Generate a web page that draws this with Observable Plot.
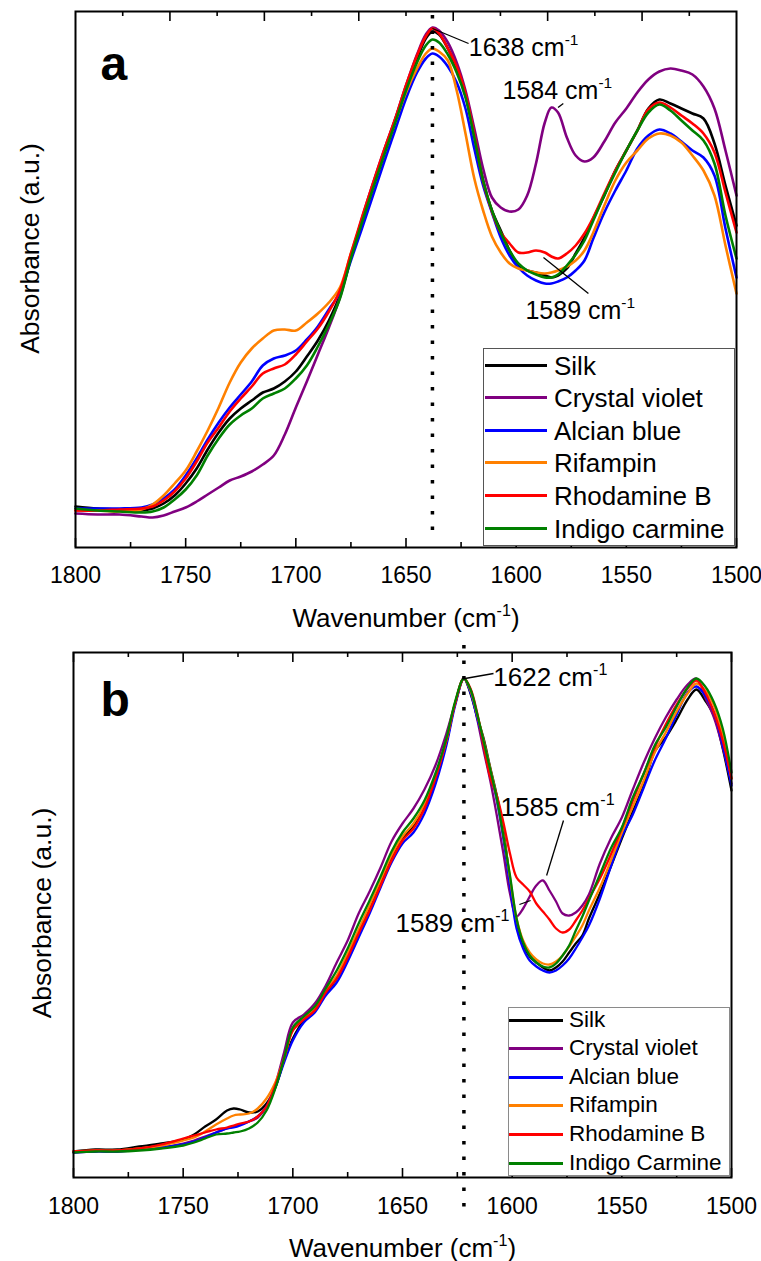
<!DOCTYPE html>
<html>
<head>
<meta charset="utf-8">
<title>FTIR amide I/II spectra of dyed silk</title>
<script src="https://cdn.jsdelivr.net/npm/d3@7"></script>
<script src="https://cdn.jsdelivr.net/npm/@observablehq/plot@0.6"></script>
<style>
  html, body { margin: 0; padding: 0; background: #fff; }
  body { width: 761px; font-family: "Liberation Sans", Arial, Helvetica, sans-serif; }
  .panel { position: relative; width: 761px; }
  .panel svg { display: block; }
  .legend { position: absolute; box-sizing: border-box; background: #fff; border: 1px solid #555; }
  .legend .row { position: absolute; left: 0; right: 0; display: flex; align-items: center; white-space: nowrap; color: #000; }
  .legend .swatch { display: inline-block; flex: none; }
  .legend .name { line-height: 1; }
</style>
</head>
<body>
<div id="chart"></div>
<script>
// ---- Panel a: absorbance (a.u.) vs wavenumber (cm^-1) ----
const wavenumberA = [1800, 1790, 1780, 1770, 1765, 1760, 1755, 1750, 1745, 1740, 1735, 1730, 1725, 1720, 1715, 1710, 1705, 1700, 1695, 1690, 1685, 1680, 1675, 1670, 1665, 1660, 1655, 1650, 1645, 1641, 1638, 1635, 1631, 1627, 1623, 1619, 1615, 1611, 1607, 1603, 1599, 1595, 1591, 1587, 1584, 1581, 1577, 1573, 1569, 1565, 1560, 1555, 1550, 1545, 1540, 1535, 1530, 1525, 1520, 1515, 1510, 1505, 1500];
const silkA = [41, 39, 38, 37, 39, 44, 52, 64, 79, 98, 115, 129, 139, 147, 155, 159, 166, 176, 191, 207, 227, 252, 291, 327, 361, 395, 427, 460, 489, 509, 516, 513, 499, 479, 452, 412, 367, 337, 317, 297, 282, 277, 275, 272, 270, 272, 279, 294, 310, 329, 352, 377, 397, 417, 439, 448, 444, 439, 434, 429, 404, 362, 322];
const crystalVioletA = [34, 33, 33, 31, 30, 32, 36, 40, 46, 53, 60, 67, 71, 76, 83, 92, 113, 140, 166, 193, 220, 250, 290, 329, 364, 397, 428, 462, 493, 513, 520, 517, 505, 485, 457, 419, 379, 350, 340, 336, 338, 352, 384, 425, 440, 435, 410, 392, 386, 390, 406, 425, 439, 455, 468, 476, 479, 477, 473, 461, 439, 397, 352];
const alcianBlueA = [39, 39, 39, 40, 43, 49, 58, 72, 89, 108, 125, 140, 153, 166, 182, 189, 192, 197, 208, 221, 238, 255, 287, 319, 352, 385, 417, 449, 475, 489, 494, 491, 481, 465, 439, 399, 362, 335, 310, 292, 280, 272, 267, 264, 264, 266, 270, 277, 287, 309, 335, 357, 377, 399, 412, 418, 414, 406, 397, 390, 372, 319, 270];
const rifampinA = [37, 37, 36, 38, 43, 52, 64, 77, 96, 117, 140, 165, 185, 199, 209, 217, 218, 217, 225, 234, 245, 260, 294, 327, 361, 394, 425, 455, 479, 494, 499, 496, 487, 457, 414, 369, 337, 311, 295, 284, 279, 277, 275, 274, 275, 277, 281, 287, 297, 315, 342, 367, 385, 397, 409, 414, 412, 405, 392, 377, 352, 302, 254];
const rhodamineBA = [37, 37, 38, 39, 41, 47, 56, 69, 86, 105, 120, 136, 149, 161, 174, 179, 183, 193, 206, 219, 236, 257, 294, 330, 364, 397, 428, 462, 492, 511, 519, 514, 499, 481, 454, 413, 366, 336, 315, 304, 295, 295, 297, 295, 291, 289, 294, 302, 314, 330, 354, 377, 397, 417, 438, 445, 440, 432, 424, 414, 395, 355, 315];
const indigoCarmineA = [39, 37, 36, 35, 36, 40, 48, 58, 72, 92, 109, 123, 132, 139, 149, 154, 159, 169, 182, 201, 223, 249, 289, 325, 359, 392, 424, 457, 485, 502, 508, 505, 493, 475, 450, 410, 367, 337, 315, 297, 284, 277, 273, 270, 270, 273, 282, 293, 307, 327, 352, 375, 397, 417, 435, 443, 437, 427, 417, 407, 384, 332, 289];

// ---- Panel b: absorbance (a.u.) vs wavenumber (cm^-1) ----
const wavenumberB = [1800, 1790, 1780, 1770, 1760, 1750, 1745, 1740, 1735, 1730, 1727, 1724, 1720, 1716, 1712, 1708, 1704, 1700, 1695, 1690, 1685, 1680, 1675, 1670, 1665, 1660, 1655, 1650, 1645, 1640, 1635, 1630, 1626, 1622, 1619, 1616, 1613, 1610, 1607, 1604, 1601, 1598, 1595, 1592, 1589, 1586, 1583, 1580, 1577, 1574, 1571, 1568, 1565, 1560, 1555, 1550, 1545, 1540, 1535, 1530, 1525, 1520, 1516, 1512, 1508, 1504, 1500];
const silkB = [26, 28, 28, 31, 34, 38, 43, 51, 58, 67, 69, 68, 65, 66, 74, 90, 117, 139, 157, 167, 184, 199, 220, 244, 268, 294, 319, 339, 351, 369, 397, 435, 474, 499, 484, 461, 439, 410, 382, 347, 297, 254, 232, 221, 215, 210, 207, 210, 216, 225, 234, 242, 259, 284, 311, 339, 366, 392, 426, 440, 458, 478, 488, 477, 462, 429, 387];
const crystalVioletB = [25, 26, 26, 28, 30, 34, 37, 41, 45, 49, 51, 53, 56, 60, 71, 93, 125, 155, 163, 174, 192, 215, 237, 264, 286, 310, 336, 354, 369, 388, 412, 444, 474, 499, 487, 459, 427, 397, 362, 324, 284, 261, 269, 281, 292, 297, 287, 276, 264, 262, 265, 272, 283, 314, 339, 360, 388, 415, 439, 460, 478, 493, 499, 480, 460, 430, 394];
const alcianBlueB = [25, 26, 26, 28, 30, 33, 36, 40, 45, 49, 50, 52, 56, 61, 71, 90, 115, 137, 155, 165, 182, 195, 216, 240, 264, 290, 315, 334, 345, 364, 393, 432, 472, 499, 485, 460, 435, 407, 377, 339, 292, 249, 229, 217, 211, 207, 205, 207, 212, 219, 229, 240, 252, 279, 311, 341, 363, 390, 417, 439, 463, 485, 491, 482, 465, 432, 392];
const rifampinB = [26, 27, 27, 29, 32, 37, 40, 46, 53, 59, 62, 63, 64, 69, 79, 95, 119, 147, 159, 169, 187, 202, 224, 248, 272, 297, 322, 341, 354, 373, 401, 437, 475, 499, 487, 463, 437, 409, 380, 344, 300, 259, 237, 225, 218, 214, 213, 216, 222, 231, 241, 252, 267, 290, 317, 345, 371, 397, 425, 445, 466, 484, 494, 487, 472, 442, 399];
const rhodamineBB = [26, 27, 27, 29, 33, 39, 42, 45, 48, 50, 52, 54, 56, 61, 71, 92, 119, 147, 158, 167, 185, 199, 220, 244, 267, 292, 317, 337, 349, 369, 399, 437, 474, 499, 489, 465, 432, 400, 382, 355, 324, 300, 293, 286, 274, 266, 258, 249, 245, 248, 257, 267, 279, 299, 323, 349, 377, 404, 430, 453, 473, 489, 497, 485, 465, 437, 399];
const indigoCarmineB = [25, 26, 26, 27, 29, 32, 35, 39, 43, 44, 45, 46, 49, 55, 67, 89, 119, 150, 161, 171, 189, 207, 229, 254, 277, 301, 326, 345, 359, 377, 404, 439, 476, 499, 488, 464, 436, 408, 379, 342, 302, 259, 235, 222, 215, 211, 210, 214, 222, 232, 247, 261, 277, 303, 329, 350, 380, 404, 432, 450, 471, 490, 499, 491, 475, 449, 405];

// ---- Series names, colours and axis ticks ----
const seriesNamesA = ["Silk", "Crystal violet", "Alcian blue", "Rifampin", "Rhodamine B", "Indigo carmine"];
const seriesNamesB = ["Silk", "Crystal violet", "Alcian blue", "Rifampin", "Rhodamine B", "Indigo Carmine"];
const seriesColors = ["#000000", "#800080", "#0000ff", "#ff8000", "#ff0000", "#008000"];
const xTickLabels = [1800, 1750, 1700, 1650, 1600, 1550, 1500];
const xTitle = "Wavenumber (cm^-1)";
const yTitle = "Absorbance (a.u.)";

const FONT = '"Liberation Sans", Arial, Helvetica, sans-serif';
const SVGNS = "http://www.w3.org/2000/svg";

// Turn "cm^-1" into cm with a raised, smaller -1.
function raiseExponents(svg) {
  for (const t of svg.querySelectorAll("text")) {
    if (t.children.length) continue;
    const m = /^(.*)\^(-?\d+)(.*)$/.exec(t.textContent);
    if (!m) continue;
    const fs = parseFloat(getComputedStyle(t).fontSize) || 20;
    t.textContent = m[1];
    const sup = document.createElementNS(SVGNS, "tspan");
    sup.setAttribute("font-size", (fs * 0.62).toFixed(1));
    sup.setAttribute("dy", (-fs * 0.42).toFixed(1));
    sup.textContent = m[2];
    t.appendChild(sup);
    if (m[3]) {
      const rest = document.createElementNS(SVGNS, "tspan");
      rest.setAttribute("dy", (fs * 0.42).toFixed(1));
      rest.textContent = m[3];
      t.appendChild(rest);
    }
  }
}

function drawPanel(p) {
  const plotH = p.height - p.margin.top - p.margin.bottom;
  const every25 = d3.range(1500, 1801, 25);
  const bottomMajor = every25.filter(d => d % 50 === 0);
  const bottomMinor = every25.filter(d => d % 50 !== 0);
  const marks = [];

  // peak labels (drawn beneath the spectra)
  marks.push(Plot.text(p.notes, {x: "tx", y: "ty", text: "label", textAnchor: "start", lineAnchor: "bottom", fontSize: p.noteSize, fill: "black"}));

  // spectra
  p.series.forEach((values, s) => {
    const rows = values.map((a, i) => ({w: p.waves[i], a}));
    marks.push(Plot.line(rows, {x: "w", y: "a", stroke: seriesColors[s], strokeWidth: p.lineWidth, curve: "catmull-rom"}));
  });

  // leader lines
  marks.push(Plot.link(p.notes, {x1: "x1", y1: "y1", x2: "x2", y2: "y2", stroke: "black", strokeWidth: 1.3}));

  // dotted marker at the amide I maximum
  marks.push(Plot.ruleX([p.peak], {stroke: "black", strokeWidth: 3.5, strokeDasharray: "3.5,12", insetTop: p.ruleInset[0], insetBottom: p.ruleInset[1]}));

  // inward ticks on the bottom edge
  marks.push(Plot.tickX(bottomMajor, {x: d => d, insetTop: plotH - 9, stroke: "black", strokeWidth: 1.6}));
  marks.push(Plot.tickX(bottomMinor, {x: d => d, insetTop: plotH - 5, stroke: "black", strokeWidth: 1.6}));
  // inward ticks on the top edge
  marks.push(Plot.tickX(p.topMajor, {x: d => d, insetBottom: plotH - 10, stroke: "black", strokeWidth: 1.6}));
  marks.push(Plot.tickX(p.topMinor, {x: d => d, insetBottom: plotH - 5, stroke: "black", strokeWidth: 1.6}));

  marks.push(Plot.frame({stroke: "black", strokeWidth: 2}));
  marks.push(Plot.axisX(xTickLabels, {anchor: "bottom", tickSize: 0, tickPadding: p.tickPad, fontSize: 23, tickFormat: d3.format("d"), label: null, fill: "black"}));

  // axis titles and panel letter
  marks.push(Plot.text([xTitle], {frameAnchor: "bottom", dy: 79, textAnchor: "middle", lineAnchor: "bottom", fontSize: 26, fill: "black"}));
  marks.push(Plot.text([yTitle], {frameAnchor: "left", rotate: -90, dx: p.yTitleDx, dy: p.yTitleDy, textAnchor: "middle", lineAnchor: "middle", fontSize: 26.5, fill: "black"}));
  marks.push(Plot.text([p.letter], {frameAnchor: "top-left", dx: p.letterDx, dy: p.letterDy, textAnchor: "start", lineAnchor: "bottom", fontSize: 48, fontWeight: "bold", fill: "black"}));

  return Plot.plot({
    width: 761,
    height: p.height,
    marginTop: p.margin.top,
    marginRight: p.margin.right,
    marginBottom: p.margin.bottom,
    marginLeft: p.margin.left,
    x: {domain: [1800, 1500], axis: null},
    y: {domain: [0, p.yMax], axis: null},
    style: {background: "white", color: "black", fontFamily: FONT, overflow: "visible"},
    marks
  });
}

function addLegend(container, p) {
  const L = p.legend;
  const box = document.createElement("div");
  box.className = "legend";
  Object.assign(box.style, {left: L.left + "px", top: L.top + "px", width: L.width + "px", height: L.height + "px", borderColor: L.border});
  p.names.forEach((name, i) => {
    const row = document.createElement("div");
    row.className = "row";
    const h = Math.round(L.step);
    row.style.top = Math.round(L.first + i * L.step - h / 2) + "px";
    row.style.height = h + "px";
    const sw = document.createElement("span");
    sw.className = "swatch";
    Object.assign(sw.style, {width: L.swatch + "px", height: L.lineWidth + "px", background: seriesColors[i], marginLeft: L.swatchLeft + "px"});
    const label = document.createElement("span");
    label.className = "name";
    label.textContent = name;
    Object.assign(label.style, {fontSize: L.fontSize + "px", marginLeft: L.gap + "px", fontFamily: FONT});
    row.append(sw, label);
    box.append(row);
  });
  container.append(box);
}

const panels = [
  {
    letter: "a", height: 638, margin: {top: 11, right: 25, bottom: 91, left: 75}, yMax: 536,
    waves: wavenumberA,
    series: [silkA, crystalVioletA, alcianBlueA, rifampinA, rhodamineBA, indigoCarmineA],
    names: seriesNamesA, lineWidth: 2.6, peak: 1638, ruleInset: [4, 8], tickPad: 19,
    topMajor: d3.range(2, 14, 2).map(k => 1800 - 300 * k / 14),
    topMinor: d3.range(1, 14, 2).map(k => 1800 - 300 * k / 14),
    yTitleDx: -45, yTitleDy: -31, letterDx: 25, letterDy: 68, noteSize: 25,
    notes: [
      {label: "1638 cm^-1", tx: 1621.5, ty: 492, x1: 1638, y1: 519, x2: 1621.6, y2: 504},
      {label: "1584 cm^-1", tx: 1606.2, ty: 449, x1: 1581, y1: 440, x2: 1578.6, y2: 444},
      {label: "1589 cm^-1", tx: 1595.8, ty: 229, x1: 1587.6, y1: 290, x2: 1567.2, y2: 254}
    ],
    legend: {left: 483, top: 348, width: 252, height: 198, border: "#555", first: 16, step: 32.6, swatch: 62, swatchLeft: 1, gap: 7, lineWidth: 3, fontSize: 26}
  },
  {
    letter: "b", height: 623, margin: {top: 14, right: 30, bottom: 84, left: 73}, yMax: 525,
    waves: wavenumberB,
    series: [silkB, crystalVioletB, alcianBlueB, rifampinB, rhodamineBB, indigoCarmineB],
    names: seriesNamesB, lineWidth: 2.3, peak: 1622, ruleInset: [-7, -30], tickPad: 20,
    topMajor: d3.range(1500, 1801, 50),
    topMinor: d3.range(1525, 1800, 50),
    yTitleDx: -31, yTitleDy: -2, letterDx: 27, letterDy: 63, noteSize: 26,
    notes: [
      {label: "1622 cm^-1", tx: 1608.6, ty: 492, x1: 1621.5, y1: 499, x2: 1608.5, y2: 504},
      {label: "1585 cm^-1", tx: 1605.3, ty: 362, x1: 1584.3, y1: 302, x2: 1576.6, y2: 357},
      {label: "1589 cm^-1", tx: 1653.2, ty: 246, x1: 1596.7, y1: 273, x2: 1591.6, y2: 277}
    ],
    legend: {left: 508, top: 369, width: 222, height: 169, border: "#8a8a8a", first: 12, step: 28.6, swatch: 54, swatchLeft: 0, gap: 6, lineWidth: 3, fontSize: 22.5}
  }
];

const root = document.getElementById("chart");
for (const p of panels) {
  const div = document.createElement("div");
  div.className = "panel";
  const svg = drawPanel(p);
  div.append(svg);
  root.append(div);
  raiseExponents(svg);
  addLegend(div, p);
}
</script>
</body>
</html>
